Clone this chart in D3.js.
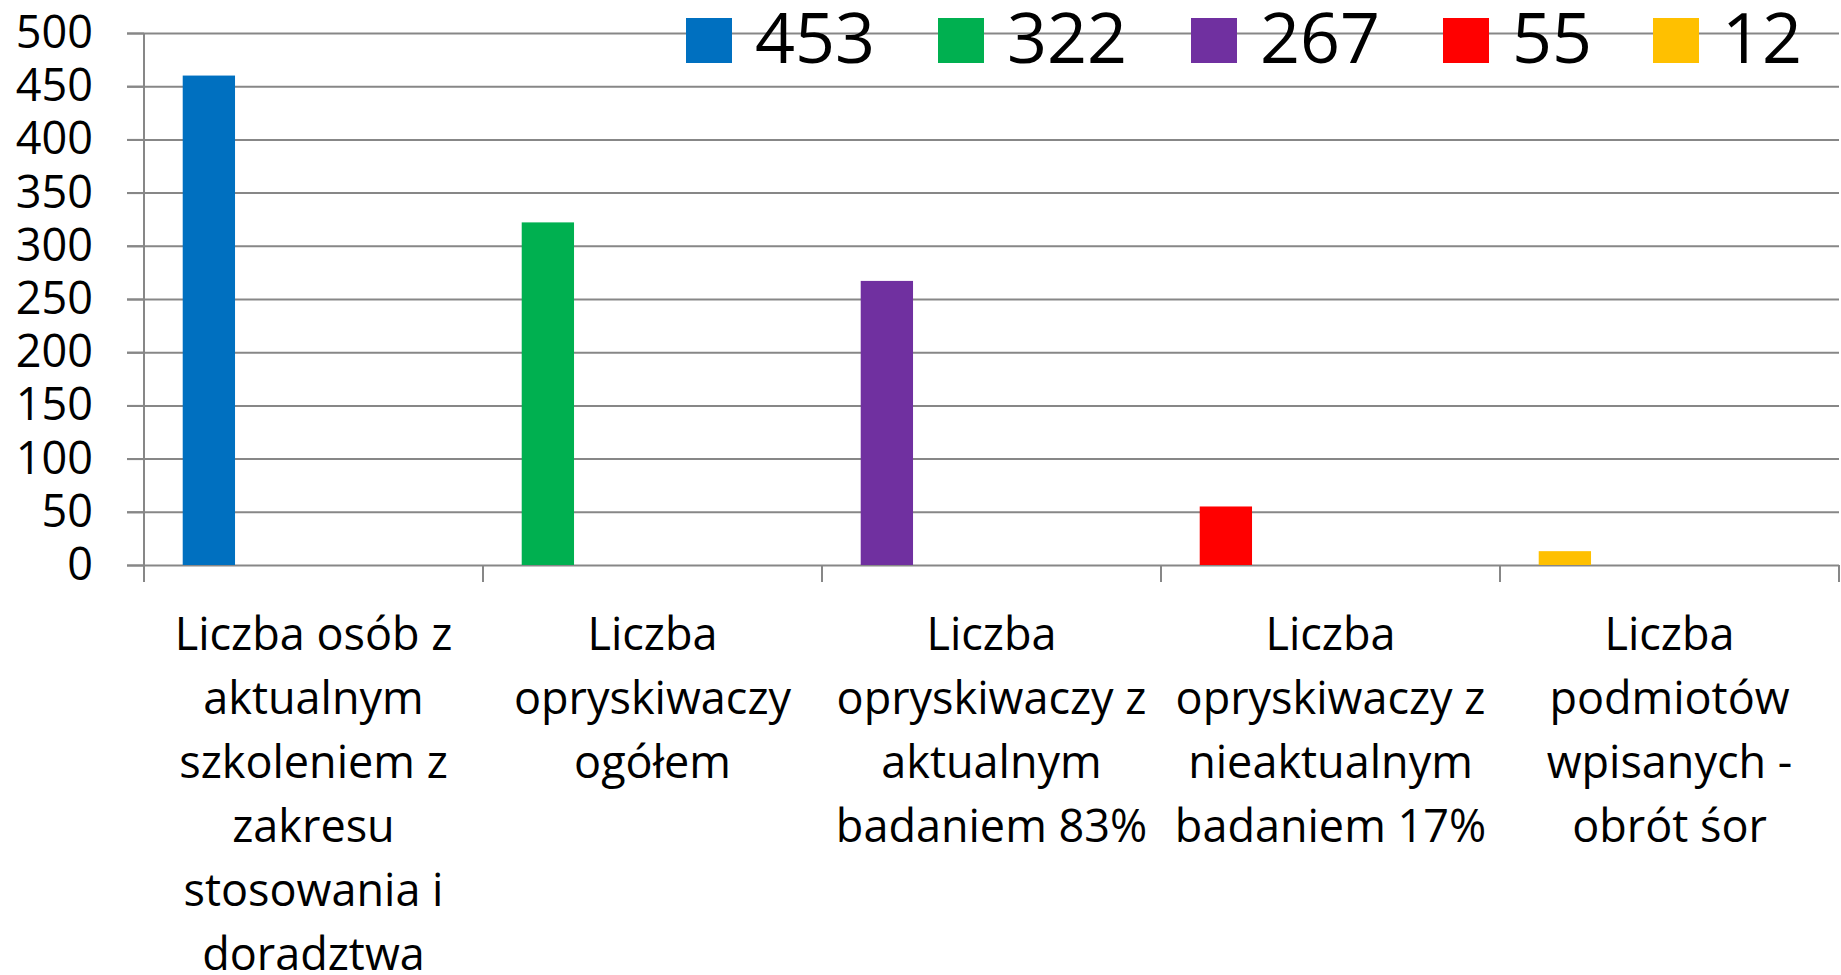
<!DOCTYPE html>
<html>
<head>
<meta charset="utf-8">
<script src="https://cdn.jsdelivr.net/npm/d3@7"></script>
<style>
    body { margin: 0; background: #fff; }
    svg { display: block; font-family: "Open Sans", sans-serif; }
    .grid line, .axis line, .axis path { stroke: #878787; stroke-width: 2; }
</style>
</head>
<body>
<svg id="chart" width="1841" height="975"></svg>
<script>
const categories = [
    ['Liczba osób z', 'aktualnym', 'szkoleniem z', 'zakresu', 'stosowania i', 'doradztwa'],
    ['Liczba', 'opryskiwaczy', 'ogółem'],
    ['Liczba', 'opryskiwaczy z', 'aktualnym', 'badaniem 83%'],
    ['Liczba', 'opryskiwaczy z', 'nieaktualnym', 'badaniem 17%'],
    ['Liczba', 'podmiotów', 'wpisanych -', 'obrót śor']
];
const seriesNames = ['453', '322', '267', '55', '12'];
const values = [460, 322, 267, 55, 13];
const colors = ['#0070C0', '#00B050', '#7030A0', '#FF0000', '#FFC000'];
const yTicks = [0, 50, 100, 150, 200, 250, 300, 350, 400, 450, 500];

const margin = {top: 33, right: 2, bottom: 410, left: 144};
const svg = d3.select('#chart');
const width = +svg.attr('width');
const height = +svg.attr('height');
const plotRight = width - margin.right;
const plotBottom = height - margin.bottom;

const catKeys = categories.map((c, i) => i);

const x = d3.scaleBand()
    .domain(catKeys)
    .range([margin.left, plotRight])
    .padding(0);

const xInner = d3.scaleBand()
    .domain(seriesNames)
    .range([0, x.bandwidth()])
    .paddingInner(0)
    .paddingOuter(0.74);

const y = d3.scaleLinear()
    .domain([0, 500])
    .range([plotBottom, margin.top]);

// horizontal gridlines, starting at the left tick end
const tickLen = 17;
svg.append('g')
    .attr('class', 'grid')
    .attr('transform', `translate(${margin.left - tickLen},0)`)
    .call(d3.axisRight(y).tickValues(yTicks).tickSize(plotRight - margin.left + tickLen).tickFormat(''))
    .call(g => g.select('.domain').remove());

// y axis with labels
svg.append('g')
    .attr('class', 'axis')
    .attr('transform', `translate(${margin.left},0)`)
    .call(d3.axisLeft(y).tickValues(yTicks).tickSize(tickLen).tickSizeOuter(0).tickPadding(34))
    .call(g => g.select('.domain').attr('d', `M0,${margin.top}V${plotBottom + tickLen}`))
    .call(g => g.selectAll('text')
        .attr('font-size', 45)
        .attr('font-family', '"Open Sans", sans-serif')
        .attr('fill', '#000'));

// category boundary ticks
const boundaries = catKeys.map(k => x(k)).concat([x.range()[1]]);
svg.append('g')
    .attr('class', 'axis')
    .selectAll('line')
    .data(boundaries)
    .join('line')
    .attr('x1', d => d)
    .attr('x2', d => d)
    .attr('y1', plotBottom)
    .attr('y2', plotBottom + tickLen);

// bars (single coloured series in the first slot of each cluster)
svg.append('g')
    .selectAll('rect')
    .data(values)
    .join('rect')
    .attr('x', (d, i) => x(i) + xInner(seriesNames[0]))
    .attr('width', xInner.bandwidth())
    .attr('y', d => y(d))
    .attr('height', d => y(0) - y(d))
    .attr('fill', (d, i) => colors[i]);

// category labels
const labelSize = 45;
const lineStep = 64;
const firstBaseline = plotBottom + 85;
const labels = svg.append('g')
    .attr('font-size', labelSize)
    .attr('text-anchor', 'middle')
    .attr('fill', '#000');

categories.forEach((lines, i) => {
    const t = labels.append('text')
        .attr('x', x(i) + x.bandwidth() / 2)
        .attr('y', firstBaseline);
    lines.forEach((line, j) => {
        t.append('tspan')
            .attr('x', x(i) + x.bandwidth() / 2)
            .attr('y', firstBaseline + j * lineStep)
            .text(line);
    });
});

// legend
const legend = svg.append('g');
const swatch = 46;
const legendTop = 18;
const legendX = [686, 938, 1191, 1443, 1653];
seriesNames.forEach((name, i) => {
    legend.append('rect')
        .attr('x', legendX[i])
        .attr('y', legendTop)
        .attr('width', swatch)
        .attr('height', swatch - 1)
        .attr('fill', colors[i]);
    legend.append('text')
        .attr('x', legendX[i] + swatch + 23)
        .attr('y', 63)
        .attr('font-size', 70)
        .attr('fill', '#000')
        .text(name);
});
</script>
</body>
</html>
